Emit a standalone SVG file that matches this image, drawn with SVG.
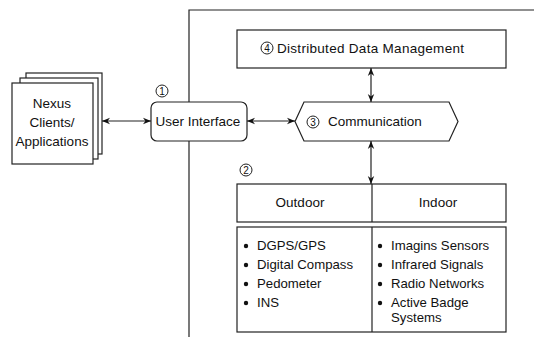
<svg xmlns="http://www.w3.org/2000/svg" width="534" height="337" viewBox="0 0 534 337">
<style>
.s{fill:#fff;stroke:#222;stroke-width:1.2}
.t{font-family:"Liberation Sans",Arial,sans-serif;font-size:13.5px;fill:#111}
.b{font-family:"Liberation Sans",Arial,sans-serif;font-size:13.2px;fill:#111}
.c{fill:#fff;stroke:#222;stroke-width:1}
.ln{stroke:#222;stroke-width:1.2;fill:none}
.n{font-family:"Liberation Sans",Arial,sans-serif;font-size:10px;fill:#111}
</style>
<defs>
<marker id="ah" viewBox="0 0 10 10" refX="10" refY="5" markerWidth="8" markerHeight="8" markerUnits="userSpaceOnUse" orient="auto-start-reverse">
<path d="M0,1 L10,5 L0,9 L3,5 Z" fill="#111"/>
</marker>
</defs>
<path id="frame" class="ln" d="M189,337 V10 H534"/>
<g id="clients">
<rect class="s" x="26" y="73" width="76" height="81"/>
<rect class="s" x="20" y="78" width="78" height="81"/>
<rect class="s" x="12" y="83" width="81" height="81"/>
<text class="t" x="52" y="108" text-anchor="middle">Nexus</text>
<text class="t" x="52" y="127" text-anchor="middle">Clients/</text>
<text class="t" x="52" y="146" text-anchor="middle">Applications</text>
</g>
<g id="ui">
<rect class="s" x="151" y="102" width="96" height="39" rx="6"/>
<text class="t" x="198" y="126" text-anchor="middle">User Interface</text>
<circle class="c" cx="162" cy="91" r="6"/>
<text class="n" x="162" y="95" text-anchor="middle">1</text>
</g>
<g id="ddm">
<rect class="s" x="237" y="30" width="269" height="38"/>
<circle class="c" cx="267" cy="48" r="6"/>
<text class="n" x="267" y="52" text-anchor="middle">4</text>
<text class="t" x="277" y="53" textLength="187">Distributed Data Management</text>
</g>
<g id="comm">
<polygon class="s" points="295,121.5 304,102 449,102 458,121.5 449,141 304,141"/>
<circle class="c" cx="313" cy="122" r="6"/>
<text class="n" x="313" y="126" text-anchor="middle">3</text>
<text class="t" x="328" y="126">Communication</text>
</g>
<g id="sensors">
<circle class="c" cx="246" cy="170" r="6"/>
<text class="n" x="246" y="174" text-anchor="middle">2</text>
<rect class="s" x="237" y="184" width="269" height="38"/>
<line class="ln" x1="372" y1="184" x2="372" y2="222"/>
<text class="t" x="300" y="207" text-anchor="middle">Outdoor</text>
<text class="t" x="438" y="207" text-anchor="middle">Indoor</text>
<rect class="s" x="237" y="227" width="269" height="105"/>
<line class="ln" x1="372" y1="227" x2="372" y2="332"/>
<g class="b">
<circle cx="246" cy="246" r="2.2"/><text x="257" y="250">DGPS/GPS</text>
<circle cx="246" cy="265" r="2.2"/><text x="257" y="269">Digital Compass</text>
<circle cx="246" cy="284" r="2.2"/><text x="257" y="288">Pedometer</text>
<circle cx="246" cy="303" r="2.2"/><text x="257" y="307">INS</text>
<circle cx="380" cy="246" r="2.2"/><text x="391" y="250">Imagins Sensors</text>
<circle cx="380" cy="265" r="2.2"/><text x="391" y="269">Infrared Signals</text>
<circle cx="380" cy="284" r="2.2"/><text x="391" y="288">Radio Networks</text>
<circle cx="380" cy="303" r="2.2"/><text x="391" y="307">Active Badge</text>
<text x="391" y="322">Systems</text>
</g>
</g>
<g id="connectors">
<line class="ln" x1="102" y1="121" x2="151" y2="121" marker-start="url(#ah)" marker-end="url(#ah)"/>
<line class="ln" x1="247" y1="121" x2="295" y2="121" marker-start="url(#ah)" marker-end="url(#ah)"/>
<line class="ln" x1="371" y1="68" x2="371" y2="102" marker-start="url(#ah)" marker-end="url(#ah)"/>
<line class="ln" x1="371" y1="141" x2="371" y2="184" marker-start="url(#ah)" marker-end="url(#ah)"/>
</g>
</svg>
